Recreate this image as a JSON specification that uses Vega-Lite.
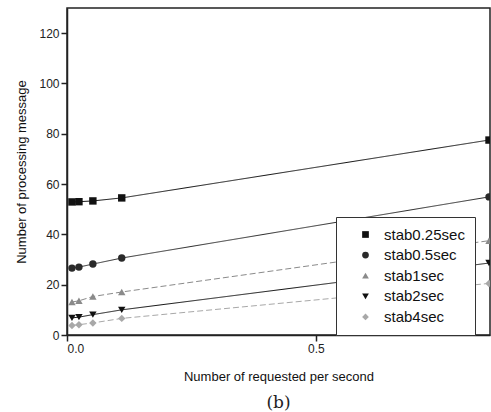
{
  "$schema": "https://vega.github.io/schema/vega-lite/v6.json",
  "width": 423,
  "height": 327,
  "autosize": "none",
  "padding": {"left": 67, "top": 8, "right": 1, "bottom": 77},
  "background": "white",
  "title": {"text": "(b)", "orient": "bottom", "font": "DejaVu Serif", "fontSize": 17, "fontWeight": "normal", "color": "#222", "offset": 12, "anchor": "middle"},
  "config": {
    "view": {"stroke": "#222", "strokeWidth": 1.5},
    "font": "Liberation Sans",
    "axis": {"grid": false, "domainColor": "#222", "domainWidth": 1.5, "tickColor": "#222", "tickWidth": 1.5, "tickSize": 6, "labelColor": "#222", "labelFontSize": 12, "titleColor": "#111", "titleFontSize": 13, "titleFontWeight": "normal"}
  },
  "data": {"values": [
    {"x": 0.01, "y": 52.9, "s": "stab0.25sec"},
    {"x": 0.024, "y": 53.0, "s": "stab0.25sec"},
    {"x": 0.052, "y": 53.3, "s": "stab0.25sec"},
    {"x": 0.11, "y": 54.5, "s": "stab0.25sec"},
    {"x": 0.848, "y": 77.5, "s": "stab0.25sec"},
    {"x": 0.01, "y": 26.6, "s": "stab0.5sec"},
    {"x": 0.024, "y": 27.0, "s": "stab0.5sec"},
    {"x": 0.052, "y": 28.2, "s": "stab0.5sec"},
    {"x": 0.11, "y": 30.6, "s": "stab0.5sec"},
    {"x": 0.848, "y": 54.9, "s": "stab0.5sec"},
    {"x": 0.01, "y": 13.1, "s": "stab1sec"},
    {"x": 0.024, "y": 13.6, "s": "stab1sec"},
    {"x": 0.052, "y": 15.3, "s": "stab1sec"},
    {"x": 0.11, "y": 17.1, "s": "stab1sec"},
    {"x": 0.848, "y": 37.5, "s": "stab1sec"},
    {"x": 0.01, "y": 6.8, "s": "stab2sec"},
    {"x": 0.024, "y": 7.1, "s": "stab2sec"},
    {"x": 0.052, "y": 8.1, "s": "stab2sec"},
    {"x": 0.11, "y": 10.0, "s": "stab2sec"},
    {"x": 0.848, "y": 28.6, "s": "stab2sec"},
    {"x": 0.01, "y": 3.8, "s": "stab4sec"},
    {"x": 0.024, "y": 4.1, "s": "stab4sec"},
    {"x": 0.052, "y": 4.8, "s": "stab4sec"},
    {"x": 0.11, "y": 6.6, "s": "stab4sec"},
    {"x": 0.848, "y": 20.5, "s": "stab4sec"}
  ]},
  "encoding": {
    "x": {"field": "x", "type": "quantitative", "title": "Number of requested per second", "scale": {"domain": [0, 0.85], "nice": false, "zero": false}, "axis": {"values": [0, 0.5], "format": ".1f", "titlePadding": 16}},
    "y": {"field": "y", "type": "quantitative", "title": "Number of processing message", "scale": {"domain": [0, 130], "nice": false}, "axis": {"values": [0, 20, 40, 60, 80, 100, 120], "titlePadding": 10}}
  },
  "layer": [
    {
      "mark": {"type": "line", "strokeWidth": 1, "clip": true},
      "encoding": {
        "color": {"field": "s", "type": "nominal", "title": null, "scale": {"domain": ["stab0.25sec", "stab0.5sec", "stab1sec", "stab2sec", "stab4sec"], "range": ["#111111", "#2a2a2a", "#8a8a8a", "#111111", "#a8a8a8"]}},
        "strokeDash": {"field": "s", "type": "nominal", "legend": null, "scale": {"domain": ["stab0.25sec", "stab0.5sec", "stab1sec", "stab2sec", "stab4sec"], "range": [[1, 0], [1, 0], [6, 3], [1, 0], [6, 3]]}}
      }
    },
    {
      "mark": {"type": "point", "filled": true, "opacity": 1, "size": 55, "clip": true},
      "encoding": {
        "color": {"field": "s", "type": "nominal", "title": null, "scale": {"domain": ["stab0.25sec", "stab0.5sec", "stab1sec", "stab2sec", "stab4sec"], "range": ["#111111", "#2a2a2a", "#8a8a8a", "#111111", "#a8a8a8"]},
          "legend": {"orient": "none", "legendX": 269, "legendY": 209, "strokeColor": "#333", "padding": 10, "labelFontSize": 15, "labelColor": "#111", "symbolSize": 45, "rowPadding": 4.6, "symbolStrokeWidth": 0, "fillColor": "white", "symbolOffset": 12, "labelOffset": 11,
            "labelExpr": "datum.label + '        '",
            "encode": {"symbols": {"shape": {"value": {"expr": "datum.value === 'stab0.25sec' ? 'M-4.8,-0.15H-0.9V-0.9H0.9V-0.15H4.8V0.15H0.9V0.9H-0.9V0.15H-4.8Z' : datum.value === 'stab0.5sec' ? 'M-4.8,-0.15H4.8V0.15H-4.8Z M0.95,0A0.95,0.95 0 1,1 -0.95,0A0.95,0.95 0 1,1 0.95,0Z' : datum.value === 'stab1sec' ? 'M-4.8,-0.15H4.8V0.15H-4.8Z M0,-1L1,0.75H-1Z' : datum.value === 'stab2sec' ? 'M-4.8,-0.15H4.8V0.15H-4.8Z M0,1L-1,-0.75H1Z' : 'M0,-1L1,0L0,1L-1,0Z'"}}}}
          }
        },
        "shape": {"field": "s", "type": "nominal", "title": null, "scale": {"domain": ["stab0.25sec", "stab0.5sec", "stab1sec", "stab2sec", "stab4sec"], "range": ["square", "circle", "triangle-up", "triangle-down", "diamond"]}}
      }
    }
  ]
}
